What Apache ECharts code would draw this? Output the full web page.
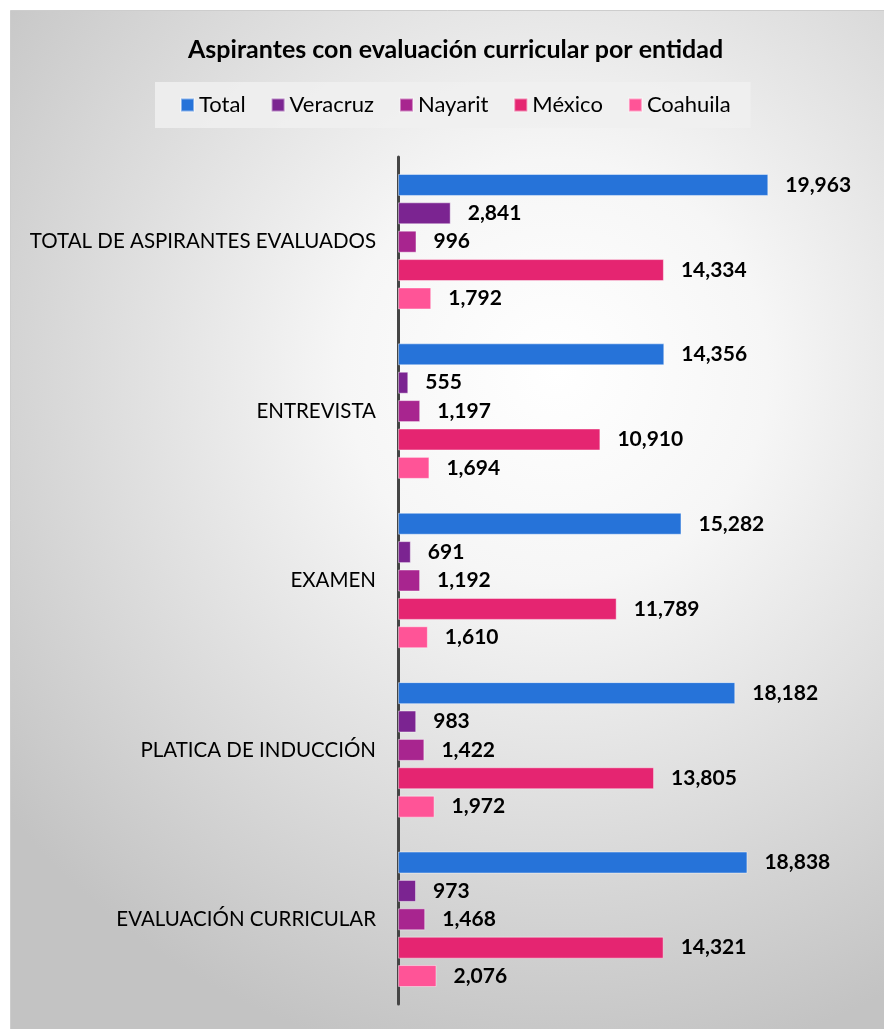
<!DOCTYPE html>
<html>
<head>
<meta charset="utf-8">
<script src="https://cdn.jsdelivr.net/npm/echarts@6/dist/echarts.min.js"></script>
<style>
  html, body { margin: 0; padding: 0; background: #fff; }
  #chart { width: 884px; height: 1029px; }
</style>
</head>
<body>
<div id="chart"></div>
<script>
const categories = [
  'TOTAL DE ASPIRANTES EVALUADOS',
  'ENTREVISTA',
  'EXAMEN',
  'PLATICA DE INDUCCIÓN',
  'EVALUACIÓN CURRICULAR',
]
const seriesNames = ['Total', 'Veracruz', 'Nayarit', 'México', 'Coahuila']
const totalValues = [19963, 14356, 15282, 18182, 18838]
const veracruzValues = [2841, 555, 691, 983, 973]
const nayaritValues = [996, 1197, 1192, 1422, 1468]
const mexicoValues = [14334, 10910, 11789, 13805, 14321]
const coahuilaValues = [1792, 1694, 1610, 1972, 2076]

const seriesData = [totalValues, veracruzValues, nayaritValues, mexicoValues, coahuilaValues]
const colors = ['#2673d9', '#7b2491', '#a8258f', '#e52571', '#ff5497']
const font = 'Lato, "Open Sans", sans-serif'

const chart = echarts.init(document.getElementById('chart'))

const option = {
  backgroundColor: '#ffffff',
  textStyle: { fontFamily: font },
  graphic: [
    {
      type: 'rect',
      z: -10,
      shape: { x: 10.5, y: 10.5, width: 880, height: 1030 },
      style: {
        stroke: '#cdcdcd',
        lineWidth: 1,
        fill: new echarts.graphic.RadialGradient(0.62, 0.35, 0.8, [
          { offset: 0, color: '#ffffff' },
          { offset: 0.3, color: '#f6f6f6' },
          { offset: 1, color: '#c3c3c3' },
        ]),
      },
    },
  ],
  title: {
    text: 'Aspirantes con evaluación curricular por entidad',
    left: 183,
    top: 32,
    textStyle: { fontFamily: font, fontSize: 25, fontWeight: 'bold', color: '#000' },
  },
  legend: {
    data: seriesNames,
    left: 155,
    top: 82,
    padding: [12, 20, 12, 25],
    itemGap: 25,
    itemWidth: 13,
    itemHeight: 13,
    icon: 'rect',
    backgroundColor: 'rgba(240,240,240,0.85)',
    textStyle: { fontFamily: font, fontSize: 22, color: '#000' },
  },
  grid: { left: 398, top: 157, height: 847, right: 115 },
  xAxis: {
    type: 'value',
    min: 0,
    max: 20000,
    show: false,
  },
  yAxis: {
    type: 'category',
    data: categories,
    inverse: true,
    axisLine: { lineStyle: { color: '#454545', width: 3 } },
    axisTick: { show: false },
    axisLabel: { fontFamily: font, fontSize: 20.5, color: '#000', margin: 22 },
  },
  series: seriesNames.map((name, i) => ({
    name,
    type: 'bar',
    data: seriesData[i],
    barWidth: 22,
    barGap: '29%',
    itemStyle: { color: colors[i], borderColor: 'rgba(255,255,255,0.45)', borderWidth: 1 },
    label: {
      show: true,
      position: 'right',
      distance: 17,
      fontFamily: font,
      fontSize: 21,
      fontWeight: 'bold',
      color: '#000',
      formatter: (p) => p.value.toLocaleString('en-US'),
    },
  })),
}

chart.setOption(option)
</script>
</body>
</html>
